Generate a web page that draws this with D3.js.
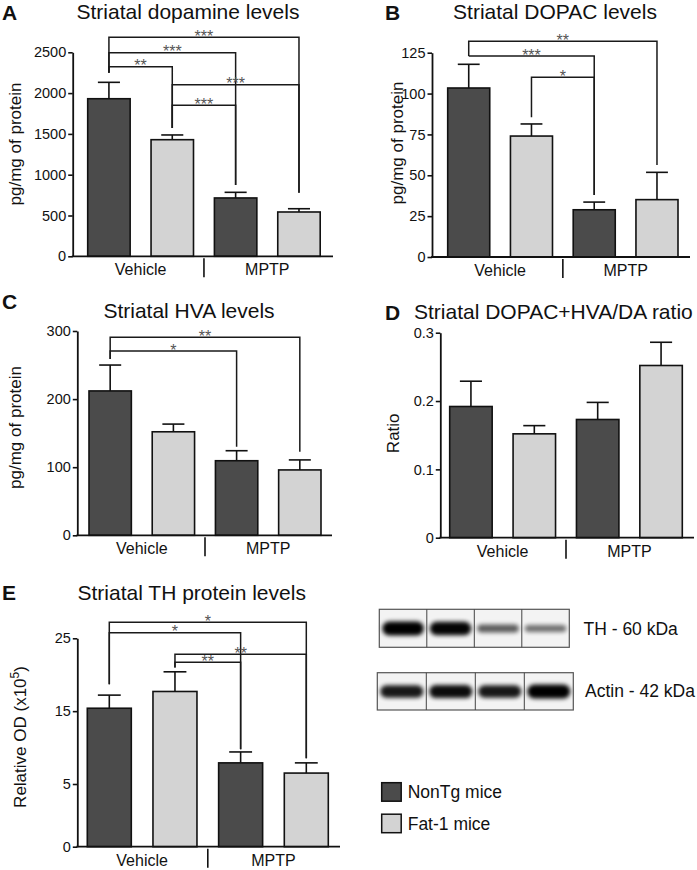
<!DOCTYPE html>
<html>
<head>
<meta charset="utf-8">
<script src="https://cdn.jsdelivr.net/npm/d3@7"></script>
<style>
  body { margin: 0; background: #fff; }
  text { font-family: "Liberation Sans", Arial, sans-serif; fill: #111; }
</style>
</head>
<body>
<script>
// ---------------- DATA ----------------
const groups = ["Vehicle", "MPTP"];
const series = ["NonTg mice", "Fat-1 mice"];

// bar order: Vehicle-NonTg, Vehicle-Fat1, MPTP-NonTg, MPTP-Fat1
const daMean = [1931, 1429, 715, 543];
const daErr = [201, 58, 69, 40];
const daTicks = [0, 500, 1000, 1500, 2000, 2500];
// brackets: [fromBar, toBar, level, leftEnd, rightEnd, label]
const daSig = [
  [0, 3, 2684, 2250, 780, "***"],
  [0, 2, 2495, 2250, 875, "***"],
  [0, 1, 2324, 2250, 1571, "**"],
  [1, 3, 2103, 1571, 780, "***"],
  [1, 2, 1850, 1571, 875, "***"]
];

const dopacMean = [103.4, 74.0, 28.9, 35.1];
const dopacErr = [14.5, 7.4, 4.7, 16.7];
const dopacTicks = [0, 25, 50, 75, 100, 125];
const dopacSig = [
  [0, 3, 132, 123, 56.3, "**"],
  [0, 2, 123, 123, 37.9, "***"],
  [1, 2, 110, 85.5, 37.9, "*"]
];

const hvaMean = [212, 152, 109.5, 96];
const hvaErr = [38, 11.3, 14.7, 14.7];
const hvaTicks = [0, 100, 200, 300];
const hvaSig = [
  [0, 3, 290.8, 259, 122.8, "**"],
  [0, 2, 270.7, 259, 130, "*"]
];

const ratioMean = [0.192, 0.152, 0.173, 0.252];
const ratioErr = [0.037, 0.012, 0.025, 0.034];
const ratioTicks = [0, 0.1, 0.2, 0.3];
const ratioSig = [];

const thMean = [15.4, 17.7, 7.9, 6.5];
const thErr = [1.8, 2.7, 1.5, 1.4];
const thTicks = [0, 5, 15, 25];
const thSig = [
  [0, 3, 27.2, 18.7, 8.53, "*"],
  [0, 2, 25.77, 18.7, 9.76, "*"],
  [1, 3, 22.8, 21.0, 8.53, "**"],
  [1, 2, 21.7, 21.0, 9.76, "**"]
];

// western blot band intensities (relative)
const blotLabels = ["TH - 60 kDa", "Actin - 42 kDa"];
const thBands = [1.0, 0.97, 0.42, 0.3];
const actinBands = [0.85, 0.92, 0.85, 1.0];

// ---------------- DRAW ----------------
const FONT = '"Liberation Sans", Arial, sans-serif';
const colors = ["#4b4b4b", "#d3d3d3"];
const svg = d3.select("body").append("svg").attr("width", 697).attr("height", 870);

const defs = svg.append("defs");
defs.append("filter").attr("id", "blur").attr("x", "-30%").attr("y", "-100%").attr("width", "160%").attr("height", "300%")
  .append("feGaussianBlur").attr("stdDeviation", 2);

function panel(cfg) {
  const g = svg.append("g");
  const x = d3.scaleBand().domain(d3.range(cfg.mean.length)).range(cfg.xBars).paddingInner(0.33).paddingOuter(0);
  const y = d3.scaleLinear().domain(cfg.yDomain).range(cfg.yRange);
  const y0 = y(0);

  // bars
  g.selectAll("rect.bar").data(cfg.mean).join("rect")
    .attr("x", (d, i) => x(i)).attr("width", x.bandwidth())
    .attr("y", d => y(d)).attr("height", d => y0 - y(d))
    .attr("fill", (d, i) => colors[i % 2]).attr("stroke", "#111").attr("stroke-width", 1.6);

  // error bars (upper)
  const cw = x.bandwidth() * 0.26;
  cfg.mean.forEach((m, i) => {
    const cx = x(i) + x.bandwidth() / 2;
    g.append("line").attr("x1", cx).attr("x2", cx).attr("y1", y(m)).attr("y2", y(m + cfg.err[i]))
      .attr("stroke", "#111").attr("stroke-width", 1.6);
    g.append("line").attr("x1", cx - cw).attr("x2", cx + cw).attr("y1", y(m + cfg.err[i])).attr("y2", y(m + cfg.err[i]))
      .attr("stroke", "#111").attr("stroke-width", 1.6);
  });

  // y axis
  const ax = g.append("g").attr("transform", `translate(${cfg.x0},0)`)
    .call(d3.axisLeft(y).tickValues(cfg.ticks).tickSize(4.5).tickSizeOuter(0).tickPadding(2)
      .tickFormat(cfg.fmt || (d => d)));
  ax.select(".domain").attr("stroke", "#111").attr("stroke-width", 1.8);
  ax.selectAll(".tick line").attr("stroke", "#111").attr("stroke-width", 1.6);
  ax.selectAll(".tick text").attr("font-family", FONT).attr("font-size", 14.5).attr("fill", "#111");

  // x axis line
  g.append("line").attr("x1", cfg.x0 - 0.9).attr("x2", cfg.xEnd).attr("y1", y0).attr("y2", y0)
    .attr("stroke", "#111").attr("stroke-width", 1.8);

  // group labels + divider
  const c0 = (x(0) + x(1) + x.bandwidth()) / 2;
  const c1 = (x(2) + x(3) + x.bandwidth()) / 2;
  const div = (x(1) + x.bandwidth() + x(2)) / 2;
  [c0, c1].forEach((c, i) => g.append("text").attr("x", c).attr("y", y0 + 19)
    .attr("text-anchor", "middle").attr("font-size", 16).text(groups[i]));
  g.append("line").attr("x1", div).attr("x2", div).attr("y1", y0 + 2).attr("y2", y0 + 21)
    .attr("stroke", "#111").attr("stroke-width", 1.6);

  // significance brackets
  cfg.sig.forEach(([a, b, lvl, le, re, lab]) => {
    const xa = x(a) + x.bandwidth() / 2, xb = x(b) + x.bandwidth() / 2;
    g.append("path").attr("d", `M${xa},${y(le)}V${y(lvl)}H${xb}V${y(re)}`)
      .attr("fill", "none").attr("stroke", "#1a1a1a").attr("stroke-width", 1.5);
    g.append("text").attr("x", (xa + xb) / 2).attr("y", y(lvl) + 4.6).attr("text-anchor", "middle")
      .attr("font-size", 16).style("fill", "#555").text(lab);
  });

  // title & letter
  g.append("text").attr("x", cfg.title[1]).attr("y", cfg.title[2]).attr("text-anchor", cfg.title[3] || "middle")
    .attr("font-size", 21).text(cfg.title[0]);
  g.append("text").attr("x", cfg.letter[1]).attr("y", cfg.letter[2]).attr("font-size", 21).attr("font-weight", "bold")
    .text(cfg.letter[0]);

  // y label
  const yl = g.append("text").attr("transform", `translate(${cfg.ylab[1]},${cfg.ylab[2]}) rotate(-90)`)
    .attr("text-anchor", "middle").attr("font-size", 17);
  if (cfg.ylab[3]) {
    yl.append("tspan").text(cfg.ylab[0]);
    yl.append("tspan").attr("dy", -7).attr("font-size", 12).text(cfg.ylab[3]);
    yl.append("tspan").attr("dy", 7).text(")");
  } else yl.text(cfg.ylab[0]);
  return { x, y };
}

panel({
  mean: daMean, err: daErr, ticks: daTicks, sig: daSig,
  yDomain: [0, 2500], yRange: [256.3, 52.3], x0: 72.7, xBars: [87.7, 320.2], xEnd: 333,
  title: ["Striatal dopamine levels", 188, 18.5], letter: ["A", 2, 19.5], ylab: ["pg/mg of protein", 21, 144]
});
panel({
  mean: dopacMean, err: dopacErr, ticks: dopacTicks, sig: dopacSig,
  yDomain: [0, 125], yRange: [257, 52.7], x0: 432, xBars: [447.7, 678], xEnd: 690,
  title: ["Striatal DOPAC levels", 555, 18.5], letter: ["B", 385, 19.5], ylab: ["pg/mg of protein", 403, 143]
});
panel({
  mean: hvaMean, err: hvaErr, ticks: hvaTicks, sig: hvaSig,
  yDomain: [0, 300], yRange: [535.3, 331], x0: 77.3, xBars: [89, 321], xEnd: 332,
  title: ["Striatal HVA levels", 189, 318], letter: ["C", 2, 309], ylab: ["pg/mg of protein", 21, 427.5]
});
panel({
  mean: ratioMean, err: ratioErr, ticks: ratioTicks, sig: ratioSig, fmt: d => d === 0 ? "0" : d3.format(".1f")(d),
  yDomain: [0, 0.3], yRange: [537.7, 332.7], x0: 440.3, xBars: [449.7, 682.3], xEnd: 694,
  title: ["Striatal DOPAC+HVA/DA ratio", 414, 319, "start"], letter: ["D", 385, 320], ylab: ["Ratio", 398.5, 433.3]
});
panel({
  mean: thMean, err: thErr, ticks: thTicks, sig: thSig,
  yDomain: [0, 5, 25], yRange: [846.7, 784, 638.3], x0: 77.3, xBars: [87.3, 328.3], xEnd: 340,
  title: ["Striatal TH protein levels", 191.7, 600], letter: ["E", 2, 600], ylab: ["Relative OD (x10", 26, 737, "5"]
});

// ---------------- Western blot ----------------
function blot(bands, box, bandY, label, labelX, labelY) {
  const g = svg.append("g");
  const lanes = d3.scaleBand().domain(d3.range(bands.length)).range([box[0], box[1]]);
  g.append("rect").attr("x", box[0]).attr("y", box[2]).attr("width", box[1] - box[0]).attr("height", box[3] - box[2])
    .attr("fill", "#f3f3f3");
  bands.forEach((v, i) => {
    const h = 4 + 10 * v;
    g.append("rect").attr("x", lanes(i) + 3).attr("width", lanes.bandwidth() - 6)
      .attr("y", bandY - h / 2).attr("height", h).attr("rx", h / 2)
      .attr("fill", "#000").attr("opacity", 0.35 + 0.65 * v).attr("filter", "url(#blur)");
  });
  g.append("rect").attr("x", box[0]).attr("y", box[2]).attr("width", box[1] - box[0]).attr("height", box[3] - box[2])
    .attr("fill", "none").attr("stroke", "#555").attr("stroke-width", 1.2);
  d3.range(1, bands.length).forEach(i => g.append("line").attr("x1", lanes(i)).attr("x2", lanes(i))
    .attr("y1", box[2]).attr("y2", box[3]).attr("stroke", "#444").attr("stroke-width", 1));
  g.append("text").attr("x", labelX).attr("y", labelY).attr("font-size", 17.5).text(label);
}
blot(thBands, [379.3, 569.3, 609.3, 647.3], 628.5, blotLabels[0], 583.5, 635);
blot(actinBands, [377.3, 573.3, 672.7, 710], 691.5, blotLabels[1], 585, 697);

// ---------------- Legend ----------------
const leg = svg.append("g");
series.forEach((s, i) => {
  const yy = 782.7 + i * 31.5;
  leg.append("rect").attr("x", 381.7).attr("y", yy).attr("width", 19.5).attr("height", 18.5)
    .attr("fill", colors[i]).attr("stroke", "#111").attr("stroke-width", 1.5);
  leg.append("text").attr("x", 407.7).attr("y", yy + 15.5).attr("font-size", 17.5).text(s);
});
</script>
</body>
</html>
